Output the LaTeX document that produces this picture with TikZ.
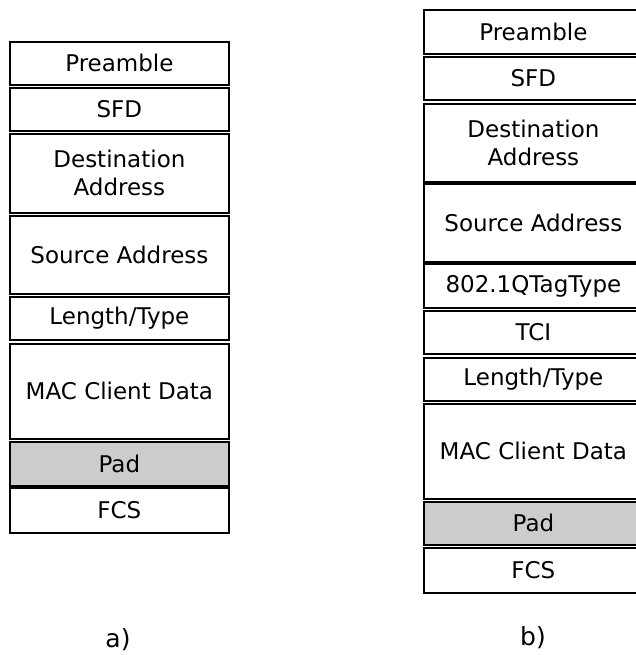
\documentclass[tikz,border=0pt]{standalone}
\usepackage{fontspec}
\setmainfont{DejaVu Sans}
\begin{document}
\begin{tikzpicture}[x=1pt,y=-1pt,
  field/.style={draw=black, line width=1.8pt, fill=white, anchor=north west,
    minimum width=219pt, inner sep=0pt, align=center, font=\fontsize{23}{28}\selectfont},
  padfield/.style={field, fill=black!20},
  caption/.style={font=\fontsize{25}{30}\selectfont, inner sep=0pt}]
\useasboundingbox (0,0) rectangle (636,655);
% left frame a)
\node[field, minimum height=43pt] (l1) at (9,41) {Preamble};
\node[field, minimum height=43pt] (l2) at (9,87) {SFD};
\node[field, minimum height=79pt] (l3) at (9,133) {Destination\\Address};
\node[field, minimum height=78pt] (l4) at (9,215) {Source Address};
\node[field, minimum height=43pt] (l5) at (9,296) {Length/Type};
\node[field, minimum height=95pt] (l6) at (9,343) {MAC Client Data};
\node[padfield, minimum height=44pt] (l7) at (9,441) {Pad};
\node[field, minimum height=45pt] (l8) at (9,487) {FCS};
% right frame b)
\node[field, minimum height=44pt] (r1) at (423,9) {Preamble};
\node[field, minimum height=43pt] (r2) at (423,56) {SFD};
\node[field, minimum height=78pt] (r3) at (423,103) {Destination\\Address};
\node[field, minimum height=78pt] (r4) at (423,183) {Source Address};
\node[field, minimum height=44pt] (r5) at (423,263) {802.1QTagType};
\node[field, minimum height=43pt] (r6) at (423,310) {TCI};
\node[field, minimum height=43pt] (r7) at (423,357) {Length/Type};
\node[field, minimum height=95pt] (r8) at (423,403) {MAC Client Data};
\node[padfield, minimum height=43pt] (r9) at (423,501) {Pad};
\node[field, minimum height=45pt] (r10) at (423,547) {FCS};
% captions
\node[caption, anchor=base] (ca) at (118,647) {a)};
\node[caption, anchor=base] (cb) at (533,645) {b)};
\end{tikzpicture}
\end{document}
